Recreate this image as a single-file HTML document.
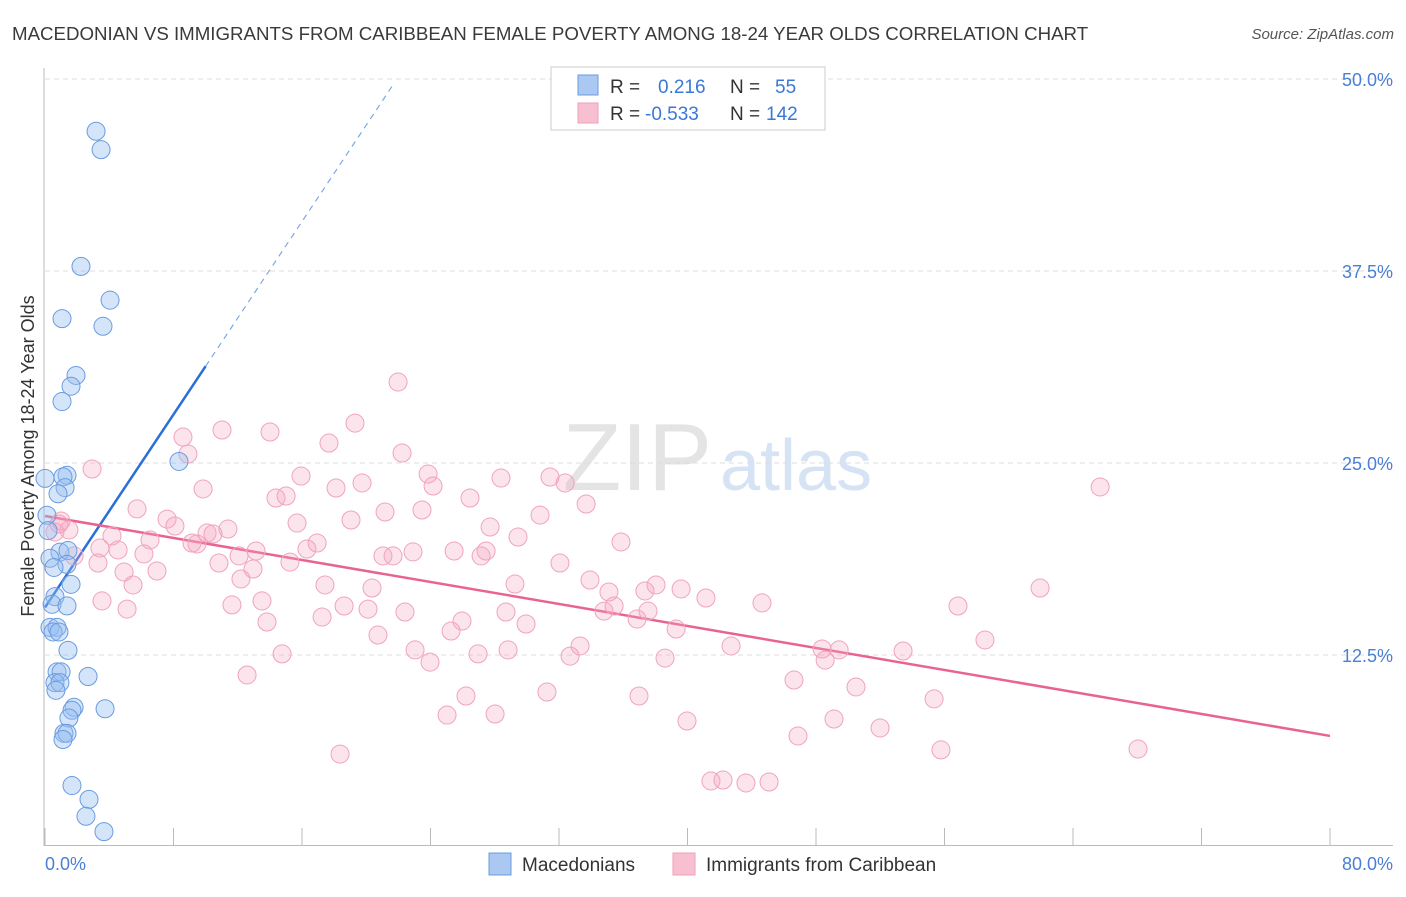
<!DOCTYPE html>
<html><head><meta charset="utf-8"><style>
body{margin:0;background:#fff;font-family:"Liberation Sans",sans-serif;}
svg text{font-family:"Liberation Sans",sans-serif;}
</style></head><body>
<svg id="chart" width="1406" height="892" viewBox="0 0 1406 892" xmlns="http://www.w3.org/2000/svg">
<text x="12" y="40" font-size="18.7" fill="#3a3a3a">MACEDONIAN VS IMMIGRANTS FROM CARIBBEAN FEMALE POVERTY AMONG 18-24 YEAR OLDS CORRELATION CHART</text>
<text x="1394" y="39" font-size="15" fill="#555" text-anchor="end" font-style="italic">Source: ZipAtlas.com</text>
<g>
<text x="712" y="490" font-size="96" fill="#e4e4e4" text-anchor="end" font-family="Liberation Serif, serif">ZIP</text>
<text x="720" y="490" font-size="72" fill="#d5e3f5">atlas</text>
</g>
<g id="grid"></g>
<g id="axes"></g>
<g id="lines"></g>
<g id="points"></g>
<text transform="translate(34,456) rotate(-90)" font-size="18" fill="#333" text-anchor="middle">Female Poverty Among 18-24 Year Olds</text>
<text x="45" y="870" font-size="18" fill="#4a7fd4">0.0%</text>
<text x="1393" y="870" font-size="18" fill="#4a7fd4" text-anchor="end">80.0%</text>
<g>
<rect x="551" y="67" width="274" height="63" fill="#fff" stroke="#ccc"/>
<rect x="578" y="75" width="20" height="20" fill="#aac8f2" stroke="#6a9be0"/>
<rect x="578" y="103" width="20" height="20" fill="#f7bfd0" stroke="#f0a0bb"/>
<text x="610" y="93" font-size="19" fill="#333">R =</text>
<text x="658" y="93" font-size="19" fill="#3a78d8">0.216</text>
<text x="730" y="93" font-size="19" fill="#333">N =</text>
<text x="775" y="93" font-size="19" fill="#3a78d8">55</text>
<text x="610" y="120" font-size="19" fill="#333">R =</text>
<text x="645" y="120" font-size="19" fill="#3a78d8">-0.533</text>
<text x="730" y="120" font-size="19" fill="#333">N =</text>
<text x="766" y="120" font-size="19" fill="#3a78d8">142</text>
</g>
<g>
<rect x="489" y="853" width="22" height="22" fill="#aac8f2" stroke="#6a9be0"/>
<text x="522" y="871" font-size="19" fill="#333">Macedonians</text>
<rect x="673" y="853" width="22" height="22" fill="#f7bfd0" stroke="#f0a0bb"/>
<text x="706" y="871" font-size="19" fill="#333">Immigrants from Caribbean</text>
</g>
</svg>
<script>
const yTicks=[12.5,25,37.5,50];
const yTickLabels=["12.5%","25.0%","37.5%","50.0%"];
const xTicks=[0,8,16,24,32,40,48,56,64,72,80];
const blueX=[3.18,3.49,2.24,4.05,1.06,3.61,1.93,1.62,1.06,8.34,0,1.37,1.12,1.25,0.81,0.12,0.19,0.93,1.43,0.31,1.37,0.56,1.62,0.62,0.44,1.37,0.31,0.75,0.5,0.87,1.43,0.75,1.0,0.62,2.68,0.93,0.68,1.81,1.68,1.49,3.74,1.18,1.37,1.12,1.68,2.74,2.55,3.67];
const blueY=[46.6,45.4,37.8,35.6,34.4,33.9,30.7,30.0,29.0,25.1,24.0,24.2,24.1,23.4,23.0,21.6,20.6,19.2,19.3,18.8,18.4,18.2,17.1,16.3,15.8,15.7,14.3,14.3,14.0,14.0,12.8,11.4,11.4,10.7,11.1,10.7,10.2,9.1,8.9,8.4,9.0,7.4,7.4,7.0,4.0,3.1,2.0,1.0];
const pinkX=[21.98,19.30,11.02,14.01,8.59,17.68,8.90,22.23,2.93,15.94,23.85,28.39,31.44,32.38,24.16,9.84,18.12,19.74,65.69,14.38,15.01,26.46,33.69,5.73,23.47,21.17,30.82,7.60,19.05,8.09,15.69,27.71,11.39,29.45,35.86,4.17,10.09,10.46,6.54,1.00,0.62,1.49,0.87,3.42,16.31,16.94,25.47,27.46,27.15,9.46,9.15,4.55,6.16,13.14,22.91,21.04,21.67,12.08,1.81,3.30,10.83,15.25,32.06,6.97,4.92,12.95,12.20,17.43,20.36,29.26,33.93,38.04,5.48,35.11,37.35,39.60,61.95,41.15,3.55,13.51,18.62,20.11,22.41,11.64,5.11,34.80,35.43,37.54,44.64,56.84,17.25,28.70,13.82,25.96,36.86,39.29,29.95,25.28,20.73,58.52,33.31,23.04,42.71,48.38,49.44,53.42,14.76,26.96,28.83,32.69,23.97,38.60,48.57,12.58,46.63,50.49,26.21,31.25,36.98,55.35,28.02,25.03,49.12,39.97,51.99,46.88,18.37,55.78,68.05,41.46,42.21,43.64,45.08];
const pinkY=[30.27,27.60,27.15,27.02,26.69,26.30,25.59,25.65,24.61,24.15,24.28,24.02,24.09,23.70,23.50,23.31,23.37,23.70,23.44,22.72,22.85,22.72,22.33,22.01,21.94,21.81,21.61,21.35,21.29,20.90,21.09,20.83,20.70,20.18,19.86,20.25,20.44,20.38,19.99,21.22,20.51,20.64,21.03,19.47,19.40,19.79,19.27,19.27,18.95,19.73,19.79,19.34,19.08,19.27,19.21,18.95,18.95,18.95,18.95,18.49,18.49,18.55,18.49,17.97,17.90,18.10,17.45,17.06,16.86,17.12,17.38,17.06,17.06,16.60,16.67,16.80,16.86,16.21,16.02,16.02,15.69,15.49,15.30,15.76,15.49,15.36,15.69,15.36,15.89,15.69,14.97,15.30,14.65,14.71,14.84,14.19,14.52,14.06,13.80,13.48,13.09,12.83,13.09,12.89,12.83,12.76,12.57,12.57,12.83,12.43,12.04,12.30,12.17,11.20,10.87,10.42,9.83,10.09,9.83,9.64,8.66,8.59,8.33,8.20,7.75,7.23,6.05,6.32,6.38,4.30,4.36,4.17,4.23];
const blueTrend=[15.6,1.57];   // intercept, slope
const blueSolidEnd=10.0, blueDashEnd=21.6;
const pinkTrend=[21.55,-0.179];
const pinkEnd=80;

const NS="http://www.w3.org/2000/svg";
const X0=45,X1=1330,Y0=847,Y50=79;
const sx=v=>X0+(X1-X0)*v/80;
const sy=v=>Y0-(Y0-Y50)*v/50;
function mk(tag,attrs,parent){const e=document.createElementNS(NS,tag);for(const k in attrs)e.setAttribute(k,attrs[k]);document.getElementById(parent).appendChild(e);return e;}

yTicks.forEach((t,i)=>{
  const g=mk('line',{x1:45,x2:1393,y1:sy(t),y2:sy(t),stroke:'#dcdcdc','stroke-dasharray':'5,4'},'grid');
  
  
  const l=mk('text',{x:1393,y:sy(t)+7,'font-size':18,fill:'#4a7fd4','text-anchor':'end'},'grid');
  l.textContent=yTickLabels[i];
  
  
});
const ax=mk('line',{x1:44,x2:44,y1:68,y2:846,stroke:'#bbb'},'axes');


const bx=mk('line',{x1:44,x2:1393,y1:845.5,y2:845.5,stroke:'#bbb'},'axes');


xTicks.forEach(t=>{
  const k=mk('line',{x1:sx(t),x2:sx(t),y1:828,y2:845,stroke:'#bbb'},'axes');
  
  
});

function pts(xs,ys,fill,stroke,name){
  xs.forEach((x,i)=>{
    const c=mk('circle',{cx:sx(x),cy:sy(ys[i]),r:9,fill:fill,stroke:stroke,'stroke-width':1},'points');
    
    
  });
}
pts(pinkX,pinkY,'rgba(245,165,192,0.3)','#f0a3bd','caribbean-point');
pts(blueX,blueY,'rgba(150,190,240,0.4)','#6a9be0','macedonian-point');

const bl=mk('line',{x1:sx(0),y1:sy(blueTrend[0]),x2:sx(blueSolidEnd),y2:sy(blueTrend[0]+blueTrend[1]*blueSolidEnd),stroke:'#2a6fd6','stroke-width':2.5},'lines');


const bd=mk('line',{x1:sx(blueSolidEnd),y1:sy(blueTrend[0]+blueTrend[1]*blueSolidEnd),x2:sx(blueDashEnd),y2:sy(blueTrend[0]+blueTrend[1]*blueDashEnd),stroke:'#7fa8e6','stroke-width':1.2,'stroke-dasharray':'6,5'},'lines');


const pl=mk('line',{x1:sx(0),y1:sy(pinkTrend[0]),x2:sx(pinkEnd),y2:sy(pinkTrend[0]+pinkTrend[1]*pinkEnd),stroke:'#e8648f','stroke-width':2.5},'lines');


</script>
</body></html>
